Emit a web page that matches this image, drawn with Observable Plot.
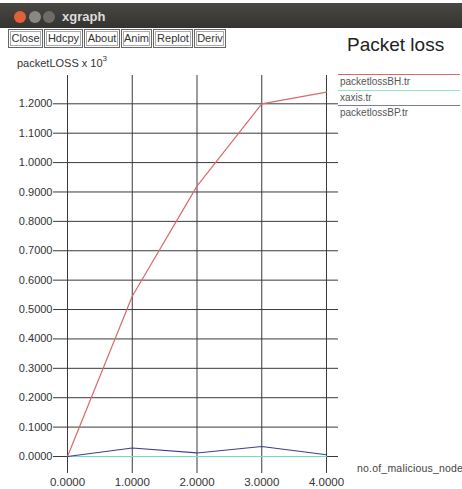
<!DOCTYPE html>
<html>
<head>
<meta charset="utf-8">
<script src="https://cdn.jsdelivr.net/npm/d3@7"></script>
<script src="https://cdn.jsdelivr.net/npm/@observablehq/plot@0.6"></script>
<style>
  html, body { margin: 0; padding: 0; background: #fff; }
  #wrap { position: relative; width: 462px; height: 489px; overflow: hidden; background: #fff; font-family: "Liberation Sans", Arial, sans-serif; }
  #wrap svg { position: absolute; left: 0; top: 0; }
  .bar { position: absolute; left: 0; top: 3px; width: 462px; height: 25px; background: linear-gradient(#4a4844, #35332f); }
  .dot { position: absolute; top: 11px; width: 12px; height: 12px; border-radius: 50%; }
  .wtitle { position: absolute; left: 62px; top: 9px; color: #dcdcdc; font-weight: bold; font-size: 13px; }
  .btn { position: absolute; top: 29px; height: 17px; border: 1px solid #666; box-shadow: inset 0 0 0 1px #fff, inset 0 0 0 2px #aaa; font-size: 11px; line-height: 17px; color: #333; text-align: center; box-sizing: content-box; }
  .title { position: absolute; left: 347px; top: 34px; font-size: 19px; color: #222; }
  .ylab { position: absolute; left: 17px; top: 55px; font-size: 11px; color: #333; }
  .ylab sup { font-size: 8px; position: relative; top: -1px; }
  .xlab { position: absolute; left: 357px; top: 462px; font-size: 10.5px; color: #444; white-space: nowrap; letter-spacing: 0.2px; }
  .leg { position: absolute; left: 338px; width: 124px; font-size: 10px; color: #555; }
  .leg .ln { height: 1px; width: 122px; }
  .leg .tx { padding-left: 2px; margin-top: 1px; }
</style>
</head>
<body>
<div id="wrap"></div>
<script>
// Data
const nodes = [0, 1, 2, 3, 4];
const lossBH = [0, 0.545, 0.92, 1.2, 1.24];
const lossBP = [0, 0.029, 0.012, 0.034, 0.006];
const xaxisVals = [0, 0, 0, 0, 0];
const yTicks = [0, 0.1, 0.2, 0.3, 0.4, 0.5, 0.6, 0.7, 0.8, 0.9, 1.0, 1.1, 1.2];
const xTicks = [0, 1, 2, 3, 4];
const seriesNames = ["packetlossBH.tr", "xaxis.tr", "packetlossBP.tr"];
const seriesColors = ["#d9696b", "#6fe0bf", "#3d3f8f"];
const legendColors = ["#d9696b", "#8fe6cc", "#7a7aa8"];
const buttonLabels = ["Close", "Hdcpy", "About", "Anim", "Replot", "Deriv"];

const bhData = nodes.map((x, i) => ({x, y: lossBH[i]}));
const bpData = nodes.map((x, i) => ({x, y: lossBP[i]}));
const axData = nodes.map((x, i) => ({x, y: xaxisVals[i]}));
const fmt = d3.format(".4f");

const chart = Plot.plot({
  width: 462,
  height: 489,
  marginTop: 75,
  marginBottom: 16,
  marginLeft: 53,
  marginRight: 124,
  x: {domain: [0, 4], range: [67, 326]},
  y: {domain: [0, 1.2], range: [456, 103.3]},
  style: {fontFamily: "Liberation Sans, Arial, sans-serif", fontSize: "11px", color: "#333", background: "transparent"},
  marks: [
    Plot.ruleY(yTicks, {stroke: "#3a3a3a", strokeWidth: 1}),
    Plot.ruleX(xTicks, {stroke: "#3a3a3a", strokeWidth: 1}),
    Plot.axisY(yTicks, {tickSize: 0, tickPadding: 1, tickFormat: fmt, label: null}),
    Plot.axisX(xTicks, {tickSize: 0, tickPadding: 4, tickFormat: fmt, label: null, fontSize: 11.5}),
    Plot.line(axData, {x: "x", y: "y", stroke: seriesColors[1], strokeWidth: 1.2}),
    Plot.line(bhData, {x: "x", y: "y", stroke: seriesColors[0], strokeWidth: 1.2}),
    Plot.line(bpData, {x: "x", y: "y", stroke: seriesColors[2], strokeWidth: 1.2})
  ]
});

const wrap = document.getElementById("wrap");
wrap.appendChild(chart);

// Window chrome
const bar = document.createElement("div"); bar.className = "bar"; wrap.appendChild(bar);
[["#e0603a", 14], ["#8a8884", 29], ["#6e6c68", 43]].forEach(([c, l]) => {
  const d = document.createElement("div"); d.className = "dot"; d.style.background = c; d.style.left = l + "px"; wrap.appendChild(d);
});
const wt = document.createElement("div"); wt.className = "wtitle"; wt.textContent = "xgraph"; wrap.appendChild(wt);
const btnLeft = [8, 44, 84, 121, 153, 194];
const btnWidth = [33, 37, 34, 29, 38, 30];
buttonLabels.forEach((b, i) => {
  const d = document.createElement("div"); d.className = "btn";
  d.style.left = btnLeft[i] + "px"; d.style.width = btnWidth[i] + "px";
  d.textContent = b; wrap.appendChild(d);
});
const t = document.createElement("div"); t.className = "title"; t.textContent = "Packet loss"; wrap.appendChild(t);
const yl = document.createElement("div"); yl.className = "ylab"; yl.innerHTML = "packetLOSS x 10<sup>3</sup>"; wrap.appendChild(yl);
const xl = document.createElement("div"); xl.className = "xlab"; xl.textContent = "no.of_malicious_node"; wrap.appendChild(xl);

// Legend
const legTops = [74, 90, 105];
seriesNames.forEach((n, i) => {
  const g = document.createElement("div"); g.className = "leg"; g.style.top = legTops[i] + "px";
  const ln = document.createElement("div"); ln.className = "ln"; ln.style.background = legendColors[i];
  const tx = document.createElement("div"); tx.className = "tx"; tx.textContent = n;
  g.appendChild(ln); g.appendChild(tx); wrap.appendChild(g);
});
</script>
</body>
</html>
